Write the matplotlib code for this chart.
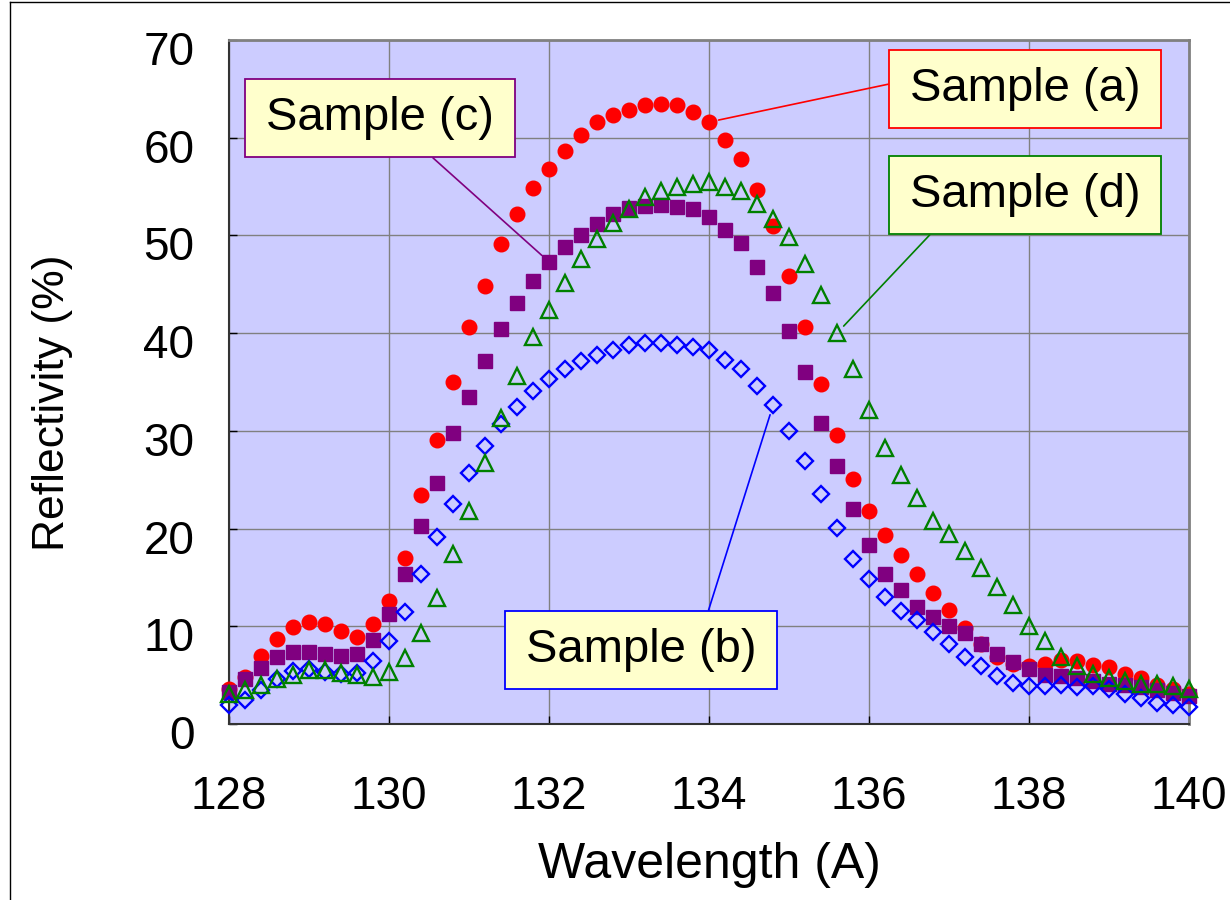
import numpy as np
import matplotlib
matplotlib.use("Agg")
import matplotlib.pyplot as plt
from matplotlib.transforms import ScaledTranslation
from matplotlib.lines import Line2D

plt.rcParams['font.family'] = ['Liberation Sans', 'DejaVu Sans']

# wavelength grid, 128 -> 140 A in 0.2 A steps
wavelength = np.round(np.arange(128.0, 140.01, 0.2), 1)

sample_a = [3.6, 4.8, 7.0, 8.7, 9.9, 10.4, 10.2, 9.5, 8.9, 10.2,
            12.6, 17.0, 23.4, 29.1, 35.0, 40.6, 44.8, 49.1, 52.2, 54.9,
            56.8, 58.6, 60.3, 61.6, 62.3, 62.8, 63.3, 63.5, 63.3, 62.6,
            61.6, 59.8, 57.8, 54.6, 51.0, 45.8, 40.6, 34.8, 29.6, 25.1,
            21.8, 19.3, 17.3, 15.4, 13.4, 11.7, 9.8, 8.2, 6.9, 6.1,
            5.9, 6.1, 6.5, 6.4, 6.0, 5.8, 5.1, 4.7, 4.0, 3.6, 3.1]

sample_b = [1.9, 2.5, 3.5, 4.6, 5.4, 5.6, 5.3, 5.1, 5.2, 6.4,
            8.5, 11.5, 15.4, 19.1, 22.5, 25.7, 28.4, 30.7, 32.4, 34.1,
            35.3, 36.3, 37.1, 37.8, 38.3, 38.8, 39.0, 39.0, 38.8, 38.6,
            38.3, 37.3, 36.3, 34.6, 32.6, 30.0, 26.9, 23.5, 20.1, 16.9,
            14.8, 13.0, 11.6, 10.6, 9.4, 8.2, 6.9, 5.9, 4.9, 4.2,
            3.9, 3.9, 4.0, 3.8, 3.9, 3.6, 3.1, 2.7, 2.2, 1.9, 1.7]

sample_c = [3.3, 4.6, 5.7, 6.9, 7.4, 7.4, 7.2, 7.0, 7.2, 8.6,
            11.3, 15.3, 20.3, 24.7, 29.8, 33.5, 37.2, 40.4, 43.1, 45.3,
            47.3, 48.8, 50.0, 51.2, 52.2, 52.8, 53.0, 53.1, 52.9, 52.7,
            51.9, 50.6, 49.2, 46.8, 44.1, 40.2, 36.0, 30.8, 26.4, 22.0,
            18.3, 15.4, 13.7, 12.0, 11.0, 10.0, 9.3, 8.2, 7.2, 6.3,
            5.6, 5.0, 4.9, 4.7, 4.4, 4.1, 4.0, 3.8, 3.5, 3.2, 2.9]

sample_d = [3.1, 3.5, 4.0, 4.6, 5.0, 5.5, 5.5, 5.2, 5.0, 4.8,
            5.3, 6.8, 9.3, 12.9, 17.4, 21.8, 26.7, 31.3, 35.6, 39.6,
            42.4, 45.1, 47.6, 49.6, 51.3, 52.7, 53.9, 54.5, 55.0, 55.3,
            55.5, 55.0, 54.5, 53.2, 51.7, 49.8, 47.1, 43.9, 40.0, 36.3,
            32.1, 28.2, 25.5, 23.1, 20.8, 19.4, 17.7, 16.0, 14.0, 12.2,
            10.0, 8.5, 6.9, 5.9, 5.1, 4.7, 4.4, 4.1, 4.1, 3.9, 3.6]

x_ticks = [128, 130, 132, 134, 136, 138, 140]
y_ticks = [0, 10, 20, 30, 40, 50, 60, 70]

fig = plt.figure(figsize=(12.3, 9), dpi=100)
ax = fig.add_axes([229 / 1230, 1 - 724 / 900, 960 / 1230, 684 / 900])
ax.set_facecolor('#CCCCFF')

ax.plot(wavelength, sample_a, 'o', color='#FF0000', ms=10.5, mec='#FF0000', clip_on=False, zorder=3)
ax.plot(wavelength, sample_c, 's', color='#800080', ms=10, mec='#800080', clip_on=False, zorder=4)
ax.plot(wavelength, sample_b, 'D', mfc='none', mec='#0000FF', mew=1.7, ms=8.5, clip_on=False, zorder=5)
ax.plot(wavelength, sample_d, '^', mfc='none', mec='#008000', mew=1.7, ms=12, clip_on=False, zorder=6)

ax.set_xlim(128, 140)
ax.set_ylim(0, 70)
ax.set_xticks(x_ticks)
ax.set_yticks(y_ticks)
ax.grid(True, color='#808080', linewidth=1.0)
ax.set_axisbelow(True)
ax.tick_params(direction='in', length=6, width=1, colors='black', labelsize=33)
ax.tick_params(axis='x', pad=37)
ax.tick_params(axis='y', pad=25)
for lab in ax.get_yticklabels():
    lab.set_transform(lab.get_transform() + ScaledTranslation(0, -8 / 100, fig.dpi_scale_trans))

for side in ['top', 'right']:
    ax.spines[side].set_color('#808080')
    ax.spines[side].set_linewidth(2)
for side in ['left', 'bottom']:
    ax.spines[side].set_color('#333333')
    ax.spines[side].set_linewidth(1.5)

ax.set_xlabel('Wavelength (A)', fontsize=36)
ax.xaxis.set_label_coords(0.5, -0.172)
ax.set_ylabel('Reflectivity (%)', fontsize=32)
ax.yaxis.set_label_coords(-0.162, 0.47)

# callout boxes
hs = '\u200a'
labels = [
    ('Sample (a)', (134.0, 61.6), (137.95, 65.0), '#FF0000', (0.0, 0.69)),
    ('Sample (c)', (132.0, 47.3), (129.89, 62.0), '#800080', (0.64, 0.0)),
    ('Sample (d)', (135.6, 40.0), (137.95, 54.1), '#008000', (0.17, 0.0)),
    ('Sample (b)', (134.8, 32.6), (133.15, 7.6), '#0000FF', (0.76, 1.0)),
]
for txt, xy, xytext, col, rp in labels:
    ax.annotate(hs + txt + hs, xy=xy, xytext=xytext, fontsize=34, ha='center', va='center',
                bbox=dict(boxstyle='square,pad=0.36', fc='#FFFFCC', ec=col, lw=1.3),
                arrowprops=dict(arrowstyle='-', color=col, lw=1.2, relpos=rp,
                                shrinkA=0, shrinkB=7),
                zorder=10)

# outer frame lines (left and top edges of the slide box)
fig.add_artist(Line2D([10 / 1230, 10 / 1230], [0, 1 - 2 / 900], color='black', lw=1))
fig.add_artist(Line2D([10 / 1230, 1], [1 - 2 / 900, 1 - 2 / 900], color='black', lw=1))

fig.savefig('out.png', dpi=100)
